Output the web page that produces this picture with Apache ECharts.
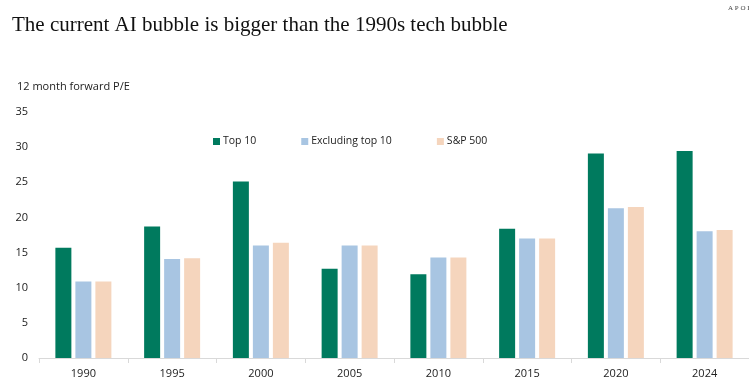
<!DOCTYPE html>
<html>
<head>
<meta charset="utf-8">
<script src="https://cdn.jsdelivr.net/npm/echarts@6/dist/echarts.min.js"></script>
<style>html,body{margin:0;padding:0;background:#fff;}#c{width:749px;height:384px;}</style>
</head>
<body>
<div id="c"></div>
<script>
const years = ['1990','1995','2000','2005','2010','2015','2020','2024'];
const top10 = [15.7, 18.7, 25.1, 12.7, 11.9, 18.4, 29.1, 29.45];
const exTop10 = [10.9, 14.1, 16.0, 16.0, 14.3, 17.0, 21.3, 18.05];
const sp500 = [10.9, 14.2, 16.4, 16.0, 14.3, 17.0, 21.5, 18.2];
const yTicks = [0, 5, 10, 15, 20, 25, 30, 35];

const colors = ['#007A5E', '#A8C5E2', '#F5D5BD'];
const chart = echarts.init(document.getElementById('c'), null, {renderer: 'canvas'});
const sans = 'Open Sans';
chart.setOption({
  animation: false,
  backgroundColor: '#fff',
  title: [
    {text: 'The current AI bubble is bigger than the 1990s tech bubble', left: 7, top: 10,
     textStyle: {fontFamily: 'Liberation Serif', fontWeight: 'normal', fontSize: 21, color: '#111'}},
    {text: 'A P O L L O', left: 723, top: 0,
     textStyle: {fontFamily: 'Liberation Serif', fontWeight: 'normal', fontSize: 7, color: '#444'}}
  ],
  legend: {
    top: 131, left: 208, itemGap: 45, itemWidth: 7, itemHeight: 7, icon: 'rect',
    textStyle: {fontFamily: sans, fontSize: 10.5, color: '#222', padding: [0, 0, 0, -2]},
    data: ['Top 10', 'Excluding top 10', 'S&P 500']
  },
  grid: {left: 39, top: 112, width: 715, height: 246, containLabel: false},
  xAxis: {
    type: 'category', data: years,
    axisLine: {lineStyle: {color: '#d9d9d9'}},
    axisTick: {show: true, alignWithLabel: false, length: 5, lineStyle: {color: '#d9d9d9'}},
    axisLabel: {fontFamily: sans, fontSize: 11, color: '#222', margin: 10}
  },
  yAxis: {
    type: 'value', min: 0, max: 35, interval: 5,
    name: '12 month forward P/E', nameLocation: 'end', nameGap: 20,
    nameTextStyle: {fontFamily: sans, fontSize: 11, color: '#222', align: 'left', padding: [0, 0, 0, -22]},
    axisLine: {show: false}, axisTick: {show: false}, splitLine: {show: false},
    axisLabel: {fontFamily: sans, fontSize: 11, color: '#222', margin: 11,
      formatter: v => yTicks.includes(v) ? String(v) : ''}
  },
  series: [
    {name: 'Top 10', type: 'bar', data: top10, barWidth: 16, barGap: '25%', itemStyle: {color: colors[0]}},
    {name: 'Excluding top 10', type: 'bar', data: exTop10, barWidth: 16, barGap: '25%', itemStyle: {color: colors[1]}},
    {name: 'S&P 500', type: 'bar', data: sp500, barWidth: 16, barGap: '25%', itemStyle: {color: colors[2]}}
  ]
});
</script>
</body>
</html>
